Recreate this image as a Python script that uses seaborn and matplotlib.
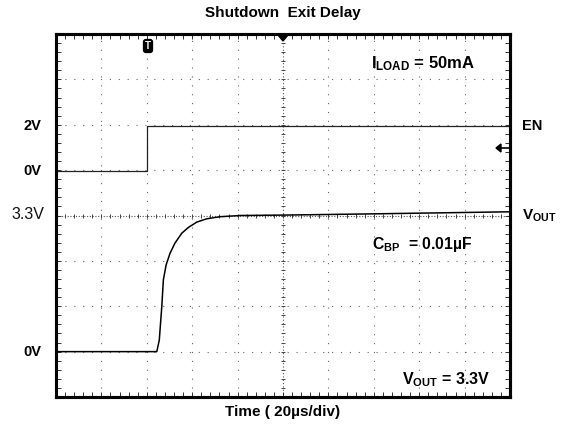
import numpy as np
import pandas as pd
import matplotlib
matplotlib.use("Agg")
import matplotlib.pyplot as plt
import matplotlib.transforms as mtransforms
import seaborn as sns

# ---- data (time in microseconds, trigger at t = 0) ----
en_time = [-40, 0, 0, 160]
en_volts = [0.0, 0.0, 2.0, 2.0]

vout_time = [-40, 4.4, 5.5, 6.6, 7.3, 8.5, 10.2, 12.4, 15.4, 18.3, 22.0, 26.4,
             32.2, 41.1, 60, 100, 160]
vout_volts = [0.0, 0.0, 0.28, 1.09, 1.74, 2.10, 2.38, 2.63, 2.87, 3.01, 3.14, 3.22,
              3.27, 3.30, 3.31, 3.34, 3.39]

left_labels = ["2V", "0V", "3.3V", "0V"]
right_labels = ["EN", r"$\mathbf{V_{OUT}}$"]
title = "Shutdown  Exit Delay"
xlabel = "Time ( 20µs/div)"

sns.set_style("white")
plt.rcParams["font.family"] = ["Liberation Sans", "DejaVu Sans"]
plt.rcParams["text.color"] = "black"
plt.rcParams["mathtext.fontset"] = "custom"
plt.rcParams["mathtext.rm"] = "Liberation Sans"
plt.rcParams["mathtext.bf"] = "Liberation Sans:bold"
plt.rcParams["mathtext.it"] = "Liberation Sans:italic"

fig = plt.figure(figsize=(5.71, 4.29), dpi=100)
rect = [56 / 571, 1 - 397 / 429, 454 / 571, 363 / 429]

# grid axes (division units), drawn underneath
axg = fig.add_axes(rect, zorder=0)
axg.set_xlim(0, 10)
axg.set_ylim(0, 8)
axg.axis("off")
dots = (0, (1, 7))
for k in range(1, 10):
    if k == 5:
        continue
    axg.axvline(k, color="#666666", lw=0.8, ls=dots)
for k in range(1, 8):
    if k == 4:
        continue
    axg.axhline(k, color="#666666", lw=0.8, ls=dots)
axg.axvline(5, color="#555555", lw=0.8, ls=(0, (1, 2)))
axg.axhline(4, color="#555555", lw=0.8, ls=(0, (1, 1.5)))
minor_x = np.arange(0.2, 10, 0.2)
minor_y = np.arange(0.2, 8, 0.2)
axg.plot(np.full(len(minor_y), 5.0), minor_y, ls="none", marker="_", ms=3.5,
         mew=0.7, color="#444444")
axg.plot(minor_x, np.full(len(minor_x), 4.0), ls="none", marker="|", ms=3.5,
         mew=0.7, color="#444444")

ax = fig.add_axes(rect, zorder=1)
ax.patch.set_visible(False)

# scope settings: 20 us/div horizontally, 10 x 8 divisions
xmin, xmax = -40, 160
vout_scale, vout_zero_div = 1.1, 1.0   # V/div, division of 0V
en_scale, en_zero_div = 2.0, 4.98

ax.set_xlim(xmin, xmax)
ax.set_ylim(-vout_zero_div * vout_scale, (8 - vout_zero_div) * vout_scale)

ax2 = ax.twinx()
ax2.patch.set_visible(False)
ax2.set_ylim(-en_zero_div * en_scale, (8 - en_zero_div) * en_scale)

# traces
df_en = pd.DataFrame({"t": en_time, "v": en_volts})
df_vo = pd.DataFrame({"t": vout_time, "v": vout_volts})
sns.lineplot(data=df_vo, x="t", y="v", ax=ax, estimator=None, sort=False,
             color="black", lw=1.1)
sns.lineplot(data=df_en, x="t", y="v", ax=ax2, estimator=None, sort=False,
             color="#222222", lw=0.9)

for a in (ax, ax2):
    a.set_xlabel("")
    a.set_ylabel("")
    a.set_yticks([])
    a.set_xticks([])
    for s in a.spines.values():
        s.set_linewidth(2.2)
        s.set_color("black")

# inward minor ticks on the border
ax.set_xticks(np.arange(xmin, xmax + 0.1, 4), minor=True)
ax.set_xticks(np.arange(xmin, xmax + 0.1, 20))
ax.set_xticklabels([])
ax.tick_params(axis="x", which="both", direction="in", top=True, bottom=True,
               length=3.5, width=0.7, color="#333333")
yl = ax.get_ylim()
ax.set_yticks(np.linspace(yl[0], yl[1], 41), minor=True)
ax.set_yticks(np.linspace(yl[0], yl[1], 9))
ax.set_yticklabels([])
ax.tick_params(axis="y", which="both", direction="in", left=True, right=True,
               length=3.5, width=0.7, color="#333333")
ax.set_ylim(yl)

# left labels
tr_l = mtransforms.blended_transform_factory(fig.transFigure, ax2.transData)
ax2.text(41 / 571, 2.0, left_labels[0], transform=tr_l, ha="right", va="center",
         fontsize=10.5, fontweight="bold")
ax2.text(41 / 571, 0.0, left_labels[1], transform=tr_l, ha="right", va="center",
         fontsize=10.5, fontweight="bold")
tr_v = mtransforms.blended_transform_factory(fig.transFigure, ax.transData)
ax.text(44 / 571, 3.33, left_labels[2], transform=tr_v, ha="right", va="center",
        fontsize=11.5, color="#111111")
ax.text(41 / 571, 0.0, left_labels[3], transform=tr_v, ha="right", va="center",
        fontsize=10.5, fontweight="bold")

# right labels
ax2.text(522 / 571, 2.0, right_labels[0], transform=tr_l, ha="left", va="center",
         fontsize=10.5, fontweight="bold")
ax.text(522 / 571, 3.3, right_labels[1], transform=tr_v, ha="left", va="center",
        fontsize=11)

# annotations
fig.text(371 / 571, 1 - 64 / 429, r"$\mathbf{I_{LOAD}}$ = 50mA", ha="left", va="center",
         fontsize=12, fontweight="bold")
fig.text(372 / 571, 1 - 245 / 429, r"$\mathbf{C_{BP}}$  = 0.01µF", ha="left", va="center",
         fontsize=11.3, fontweight="bold")
fig.text(402 / 571, 1 - 380 / 429, r"$\mathbf{V_{OUT}}$ = 3.3V", ha="left", va="center",
         fontsize=11.5, fontweight="bold")

# title and x label
fig.text(283 / 571, 1 - 13 / 429, title, ha="center", va="center",
         fontsize=11, fontweight="bold")
fig.text(283 / 571, 1 - 412 / 429, xlabel, ha="center", va="center",
         fontsize=11, fontweight="bold")

# scope markers: trigger "T", top trigger position, right-side level arrow
fig.text(148 / 571, 1 - 46 / 429, "T", ha="center", va="center", fontsize=7,
         fontweight="bold", color="white",
         bbox=dict(boxstyle="round,pad=0.15,rounding_size=0.25", fc="black", ec="black"))
fig.patches.append(plt.Polygon([[278 / 571, 1 - 35 / 429], [288 / 571, 1 - 35 / 429],
                                [283 / 571, 1 - 41 / 429]], closed=True,
                               transform=fig.transFigure, color="black"))
fig.patches.append(plt.Polygon([[496 / 571, 1 - 148 / 429], [501 / 571, 1 - 144 / 429],
                                [501 / 571, 1 - 152 / 429]], closed=True,
                               transform=fig.transFigure, color="black"))
fig.add_artist(plt.Line2D([500 / 571, 509 / 571], [1 - 148 / 429, 1 - 148 / 429],
                          transform=fig.transFigure, color="black", lw=1.2))

fig.savefig("out.png", dpi=100)
